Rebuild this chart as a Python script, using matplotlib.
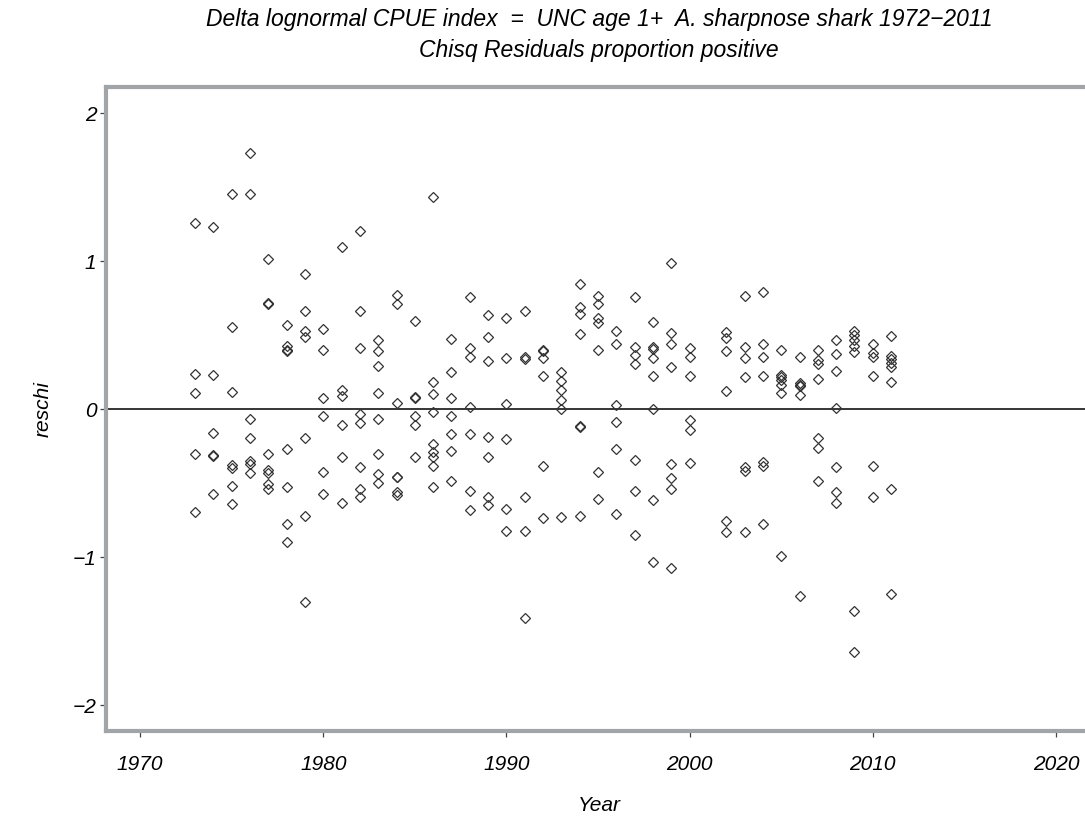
import numpy as np
import matplotlib
matplotlib.use("Agg")
import matplotlib.pyplot as plt

plt.rcParams['font.family'] = ['Liberation Sans', 'DejaVu Sans']
plt.rcParams['font.style'] = 'italic'

# chi-square residuals of the proportion-positive component, by year
year = ([1973] * 5 + [1974] * 6 + [1975] * 7 + [1976] * 7 + [1977] * 8 +
        [1978] * 8 + [1979] * 7 + [1980] * 6 + [1981] * 6 + [1982] * 8 +
        [1983] * 8 + [1984] * 7 + [1985] * 6 + [1986] * 9 + [1987] * 7 +
        [1988] * 7 + [1989] * 7 + [1990] * 6 + [1991] * 6 + [1992] * 6 +
        [1993] * 6 + [1994] * 7 + [1995] * 7 + [1996] * 6 + [1997] * 7 +
        [1998] * 8 + [1999] * 8 + [2000] * 6 + [2002] * 6 + [2003] * 7 +
        [2004] * 7 + [2005] * 7 + [2006] * 6 + [2007] * 7 + [2008] * 7 +
        [2009] * 7 + [2010] * 6 + [2011] * 8)
reschi = [
    1.256, 0.239, 0.109, -0.30, -0.693,
    1.229, 0.232, -0.162, -0.308, -0.318, -0.572,
    1.452, 0.558, 0.118, -0.38, -0.40, -0.517, -0.638,
    1.732, 1.452, -0.068, -0.196, -0.353, -0.374, -0.432,
    1.017, 0.717, 0.708, -0.30, -0.41, -0.43, -0.505, -0.541,
    0.570, 0.43, 0.40, 0.394, -0.266, -0.527, -0.778, -0.899,
    0.913, 0.662, 0.529, 0.486, -0.193, -0.720, -1.300,
    0.539, 0.40, 0.072, -0.046, -0.423, -0.572,
    1.099, 0.130, 0.087, -0.104, -0.326, -0.635,
    1.203, 0.662, 0.413, -0.031, -0.094, -0.391, -0.541, -0.597,
    0.469, 0.391, 0.290, 0.111, -0.065, -0.300, -0.44, -0.498,
    0.771, 0.713, 0.041, -0.461, -0.456, -0.56, -0.577,
    0.594, 0.080, 0.078, -0.046, -0.104, -0.326,
    1.435, 0.186, 0.101, -0.019, -0.234, -0.290, -0.326, -0.382, -0.524,
    0.476, 0.249, 0.072, -0.046, -0.169, -0.280, -0.486,
    0.756, 0.413, 0.355, 0.017, -0.169, -0.551, -0.681,
    0.635, 0.486, 0.326, -0.186, -0.326, -0.597, -0.645,
    0.616, 0.345, 0.036, -0.205, -0.672, -0.821,
    0.662, 0.355, 0.336, -0.597, -0.821, -1.41,
    0.40, 0.39, 0.345, 0.225, -0.382, -0.737,
    0.251, 0.191, 0.130, 0.060, 0.0, -0.73,
    0.845, 0.693, 0.643, 0.505, -0.115, -0.122, -0.72,
    0.763, 0.708, 0.616, 0.58, 0.40, -0.423, -0.606,
    0.531, 0.437, 0.031, -0.085, -0.268, -0.71,
    0.756, 0.423, 0.365, 0.307, -0.345, -0.551, -0.85,
    0.587, 0.423, 0.408, 0.345, 0.225, 0.0, -0.616, -1.036,
    0.988, 0.514, 0.437, 0.283, -0.374, -0.464, -0.539, -1.075,
    0.413, 0.350, 0.225, -0.07, -0.142, -0.365,
    0.519, 0.478, 0.396, 0.121, -0.755, -0.830,
    0.766, 0.423, 0.348, 0.217, -0.391, -0.42, -0.830,
    0.792, 0.437, 0.355, 0.225, -0.357, -0.382, -0.775,
    0.40, 0.23, 0.215, 0.195, 0.162, 0.111, -0.99,
    0.355, 0.174, 0.165, 0.157, 0.097, -1.26,
    0.40, 0.33, 0.306, 0.203, -0.196, -0.263, -0.486,
    0.469, 0.372, 0.258, 0.007, -0.391, -0.56, -0.635,
    0.529, 0.50, 0.466, 0.425, 0.389, -1.364, -1.644,
    0.437, 0.381, 0.353, 0.225, -0.382, -0.597,
    0.493, 0.357, 0.340, 0.31, 0.285, 0.186, -0.541, -1.25,
]
xticks = [1970, 1980, 1990, 2000, 2010, 2020]
yticks = [-2, -1, 0, 1, 2]

fig = plt.figure(figsize=(10.85, 8.21), dpi=100)
ax = fig.add_axes([0.0977, 0.1096, 0.9093, 0.7841])

ax.axhline(0, color='black', lw=1.1, zorder=1)
ax.plot(year, reschi, linestyle='none', marker='D', markersize=4.9,
        markerfacecolor='none', markeredgecolor='#333333',
        markeredgewidth=0.9, zorder=2)

ax.set_xlim(1968.14, 2022.0)
ax.set_ylim(-2.175, 2.175)
ax.set_xticks(xticks)
ax.set_yticks(yticks)

for s in ax.spines.values():
    s.set_color('#a2a5a8')
    s.set_linewidth(3)

ax.tick_params(axis='both', direction='out', length=4, width=0.9,
               color='#444444', labelsize=15)
ax.tick_params(axis='x', pad=13)
ax.tick_params(axis='y', pad=3)

ax.set_xlabel('Year', fontsize=15, labelpad=16)
ax.set_ylabel('reschi', fontsize=15, labelpad=14)
ax.set_title('Delta lognormal CPUE index  =  UNC age 1+  A. sharpnose shark 1972\u22122011\n'
             'Chisq Residuals proportion positive', fontsize=16.5,
             linespacing=1.45, pad=22)

fig.savefig('out.png', dpi=100)
